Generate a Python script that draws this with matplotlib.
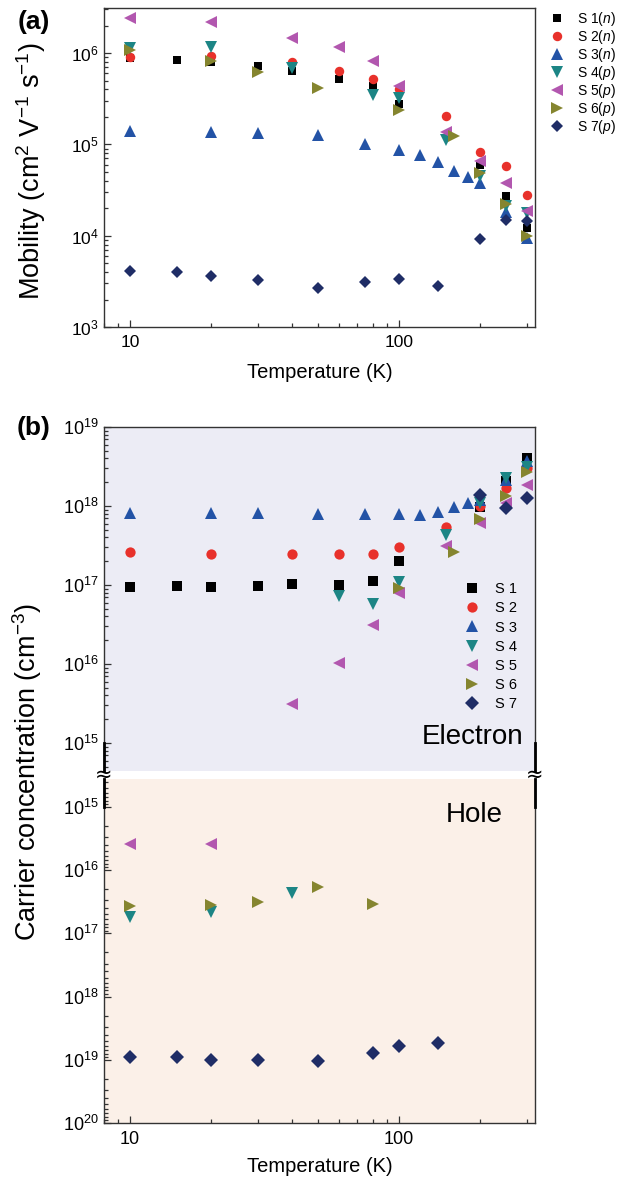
import matplotlib
matplotlib.use("Agg")
import matplotlib.pyplot as plt
import matplotlib.ticker as mticker
from matplotlib.lines import Line2D

plt.rcParams['font.family'] = ['Liberation Sans', 'DejaVu Sans']
plt.rcParams['mathtext.fontset'] = 'custom'
plt.rcParams['mathtext.rm'] = 'Liberation Sans'
plt.rcParams['mathtext.it'] = 'Liberation Sans:italic'
plt.rcParams['mathtext.bf'] = 'Liberation Sans:bold'

# ---------------- data: panel (a) mobility ----------------
T_a_S1 = [10, 15, 20, 30, 40, 60, 80, 100, 200, 250, 300]
mu_S1 = [8.8e5, 8.4e5, 8.0e5, 7.2e5, 6.4e5, 5.2e5, 4.4e5, 2.8e5, 6.0e4, 2.7e4, 1.22e4]
T_a_S2 = [10, 20, 40, 60, 80, 100, 150, 200, 250, 300]
mu_S2 = [9.0e5, 9.3e5, 8.0e5, 6.4e5, 5.2e5, 4.0e5, 2.04e5, 8.2e4, 5.8e4, 2.8e4]
T_a_S3 = [10, 20, 30, 50, 75, 100, 120, 140, 160, 180, 200, 250, 300]
mu_S3 = [1.4e5, 1.37e5, 1.33e5, 1.27e5, 1.0e5, 8.7e4, 7.6e4, 6.4e4, 5.1e4, 4.4e4, 3.8e4, 1.8e4, 9.4e3]
T_a_S4 = [10, 20, 40, 80, 100, 150, 200, 250, 300]
mu_S4 = [1.13e6, 1.16e6, 6.9e5, 3.5e5, 3.2e5, 1.12e5, 4.5e4, 2.1e4, 1.75e4]
T_a_S5 = [10, 20, 40, 60, 80, 100, 150, 200, 250, 300]
mu_S5 = [2.42e6, 2.2e6, 1.46e6, 1.16e6, 8.2e5, 4.4e5, 1.37e5, 6.6e4, 3.8e4, 1.87e4]
T_a_S6 = [10, 20, 30, 50, 100, 160, 200, 250, 300]
mu_S6 = [1.08e6, 8.2e5, 6.2e5, 4.1e5, 2.4e5, 1.23e5, 4.9e4, 2.2e4, 9.9e3]
T_a_S7 = [10, 15, 20, 30, 50, 75, 100, 140, 200, 250, 300]
mu_S7 = [4.1e3, 4.0e3, 3.6e3, 3.3e3, 2.7e3, 3.1e3, 3.35e3, 2.8e3, 9.2e3, 1.48e4, 1.45e4]

# ---------------- data: panel (b) electron concentration ----------------
T_e_S1 = [10, 15, 20, 30, 40, 60, 80, 100, 200, 250, 300]
n_S1 = [9.4e16, 9.7e16, 9.5e16, 9.8e16, 1.02e17, 1.0e17, 1.12e17, 2.0e17, 9.7e17, 2.1e18, 4.0e18]
T_e_S2 = [10, 20, 40, 60, 80, 100, 150, 200, 250, 300]
n_S2 = [2.62e17, 2.47e17, 2.47e17, 2.47e17, 2.47e17, 3.0e17, 5.4e17, 1.0e18, 1.69e18, 3.0e18]
T_e_S3 = [10, 20, 30, 50, 75, 100, 120, 140, 160, 180, 200, 250, 300]
n_S3 = [8.2e17, 8.2e17, 8.2e17, 7.9e17, 7.9e17, 7.9e17, 7.7e17, 8.4e17, 9.7e17, 1.09e18, 1.19e18, 2.13e18, 3.7e18]
T_e_S4 = [60, 80, 100, 150, 200, 250, 300]
n_S4 = [7.2e16, 5.8e16, 1.1e17, 4.3e17, 1.09e18, 2.26e18, 3.1e18]
T_e_S5 = [40, 60, 80, 100, 150, 200, 250, 300]
n_S5 = [3.1e15, 1.03e16, 3.1e16, 7.9e16, 3.1e17, 6.1e17, 1.09e18, 1.84e18]
T_e_S6 = [100, 160, 200, 250, 300]
n_S6 = [9.2e16, 2.6e17, 6.8e17, 1.34e18, 2.7e18]
T_e_S7 = [200, 250, 300]
n_S7 = [1.38e18, 9.4e17, 1.26e18]

# ---------------- data: panel (b) hole concentration ----------------
T_h_S4 = [10, 20, 40]
p_S4 = [5.5e16, 4.6e16, 2.3e16]
T_h_S5 = [10, 20]
p_S5 = [3.85e15, 3.85e15]
T_h_S6 = [10, 20, 30, 50, 80]
p_S6 = [3.68e16, 3.6e16, 3.2e16, 1.85e16, 3.4e16]
T_h_S7 = [10, 15, 20, 30, 50, 80, 100, 140]
p_S7 = [9.0e18, 9.0e18, 1.0e19, 1.0e19, 1.05e19, 7.8e18, 6.0e18, 5.4e18]

labels_a = [r"S 1($\mathit{n}$)", r"S 2($\mathit{n}$)", r"S 3($\mathit{n}$)", r"S 4($\mathit{p}$)",
            r"S 5($\mathit{p}$)", r"S 6($\mathit{p}$)", r"S 7($\mathit{p}$)"]
labels_b = ["S 1", "S 2", "S 3", "S 4", "S 5", "S 6", "S 7"]
xtick_vals = [10, 100]
xtick_labels = ["10", "100"]

colors = ['#000000', '#E8312B', '#2353A6', '#1C8585', '#B257AF', '#85852F', '#1F2D66']
markers = ['s', 'o', '^', 'v', '<', '>', 'D']
ms_a = [6.2, 6.8, 8.0, 8.0, 8.0, 8.0, 6.4]
ms_b = [6.8, 7.4, 8.8, 8.8, 8.8, 8.8, 7.0]

W, H = 634, 1182
fig = plt.figure(figsize=(W / 100, H / 100), dpi=100)

def fx(px):
    return px / W

def fy(py):
    return 1 - py / H

spine_col = '#333333'

def style_axes(ax, fs=12.5):
    ax.set_xscale('log')
    ax.set_yscale('log')
    ax.tick_params(which='both', direction='in', top=False, right=False, color=spine_col,
                   labelsize=fs, width=0.9)
    ax.tick_params(which='major', length=5)
    ax.tick_params(which='minor', length=3)
    ax.tick_params(axis='x', pad=6)
    ax.tick_params(axis='y', pad=4)
    for s in ax.spines.values():
        s.set_color(spine_col)
        s.set_linewidth(1.0)
    ax.set_xlim(8, 320)
    ax.set_xticks(xtick_vals, labels=xtick_labels)
    ax.xaxis.set_minor_locator(mticker.LogLocator(base=10, subs=range(2, 10)))
    ax.xaxis.set_minor_formatter(mticker.NullFormatter())
    ax.yaxis.set_minor_locator(mticker.LogLocator(base=10, subs=range(2, 10), numticks=50))
    ax.yaxis.set_minor_formatter(mticker.NullFormatter())

# ---------------- panel (a) ----------------
ax_a = fig.add_axes([fx(104), fy(327), fx(431), 319 / H])
style_axes(ax_a, fs=12.5)
Ta = [T_a_S1, T_a_S2, T_a_S3, T_a_S4, T_a_S5, T_a_S6, T_a_S7]
Ya = [mu_S1, mu_S2, mu_S3, mu_S4, mu_S5, mu_S6, mu_S7]
for i in range(7):
    ax_a.plot(Ta[i], Ya[i], linestyle='none', marker=markers[i], color=colors[i],
              ms=ms_a[i], mew=0, label=labels_a[i])
ax_a.set_ylim(1e3, 10 ** 6.493)
ax_a.yaxis.set_major_locator(mticker.LogLocator(base=10, numticks=10))
ax_a.set_xlabel("Temperature (K)", fontsize=14.5, va='center')
ax_a.xaxis.set_label_coords(0.5, -(372 - 327) / 319)
ax_a.set_ylabel(r"Mobility (cm$^{2}$ V$^{-1}$ s$^{-1}$)", fontsize=19.5, va='center')
ax_a.yaxis.set_label_coords(-(104 - 31) / 431, 0.5 - (171 - 167.5) / 319)
ax_a.legend(loc='upper left', bbox_to_anchor=(fx(550), fy(10)), bbox_transform=fig.transFigure,
            frameon=False, fontsize=10, handlelength=1.0, handletextpad=0.95,
            borderpad=0, borderaxespad=0, labelspacing=0.0)

# ---------------- panel (b) electron ----------------
ax_e = fig.add_axes([fx(104), fy(771), fx(431), 344 / H])
style_axes(ax_e, fs=13)
ax_e.set_facecolor('#ECECF5')
Te = [T_e_S1, T_e_S2, T_e_S3, T_e_S4, T_e_S5, T_e_S6, T_e_S7]
Ye = [n_S1, n_S2, n_S3, n_S4, n_S5, n_S6, n_S7]
for i in range(7):
    ax_e.plot(Te[i], Ye[i], linestyle='none', marker=markers[i], color=colors[i],
              ms=ms_b[i], mew=0, label=labels_b[i])
ax_e.set_ylim(10 ** 14.646, 1e19)
ax_e.yaxis.set_major_locator(mticker.LogLocator(base=10, numticks=10))
ax_e.spines['bottom'].set_visible(False)
ax_e.tick_params(axis='x', which='both', bottom=False, labelbottom=False)
ax_e.legend(loc='upper left', bbox_to_anchor=(fx(464.5), fy(582)), bbox_transform=fig.transFigure,
            frameon=False, fontsize=10.5, handlelength=1.0, handletextpad=1.07,
            borderpad=0, borderaxespad=0, labelspacing=0.36)
ax_e.text(fx(523), fy(737), "Electron", transform=fig.transFigure, fontsize=20,
          ha='right', va='center')

# ---------------- panel (b) hole ----------------
ax_h = fig.add_axes([fx(104), fy(1123), fx(431), 344 / H])
style_axes(ax_h, fs=13)
ax_h.set_facecolor('#FBF0E8')
Th = [T_h_S4, T_h_S5, T_h_S6, T_h_S7]
Yh = [p_S4, p_S5, p_S6, p_S7]
for j, i in enumerate([3, 4, 5, 6]):
    ax_h.plot(Th[j], Yh[j], linestyle='none', marker=markers[i], color=colors[i],
              ms=ms_b[i], mew=0)
ax_h.set_ylim(1e20, 10 ** 14.557)
ax_h.yaxis.set_major_locator(mticker.LogLocator(base=10, numticks=10))
ax_h.spines['top'].set_visible(False)
ax_h.set_xlabel("Temperature (K)", fontsize=14.5, va='center')
ax_h.xaxis.set_label_coords(0.5, -(1167 - 1123) / 344)
ax_h.text(fx(474), fy(815), "Hole", transform=fig.transFigure, fontsize=20,
          ha='center', va='center')

# y label shared by the two (b) axes
fig.text(fx(27), fy(772), r"Carrier concentration (cm$^{-3}$)", fontsize=19.5,
         rotation=90, ha='center', va='center')

# break marks on the spines
for xp in (104, 535):
    for (y0, y1) in ((743, 771), (779, 807)):
        fig.add_artist(Line2D([fx(xp), fx(xp)], [fy(y0), fy(y1)], color='black', lw=2.0,
                              transform=fig.transFigure))
    fig.text(fx(xp), fy(775), "\u2248", fontsize=15, ha='center', va='center',
             family=['DejaVu Sans'])

# panel letters
fig.text(fx(34), fy(22), "(a)", fontsize=19, fontweight='bold', ha='center', va='center')
fig.text(fx(34), fy(428), "(b)", fontsize=19, fontweight='bold', ha='center', va='center')

fig.savefig("out.png", dpi=100)
